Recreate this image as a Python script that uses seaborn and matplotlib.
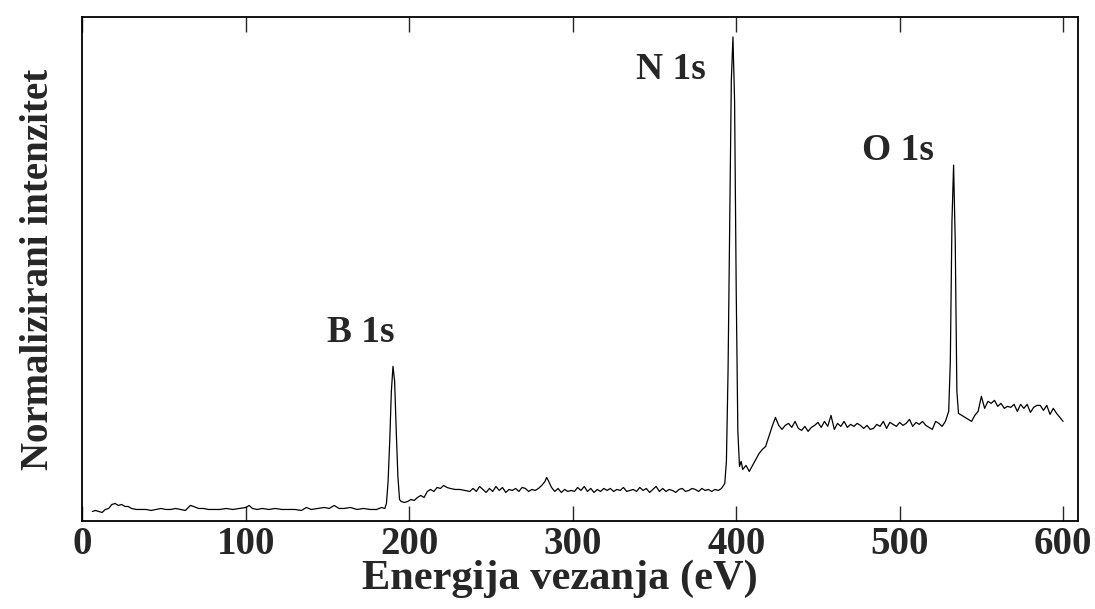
import matplotlib
matplotlib.use("Agg")
import matplotlib.pyplot as plt
import seaborn as sns
import pandas as pd

# binding energy (eV)
energy = [6, 8, 10, 12, 14, 16, 18, 20, 22, 24, 26, 28, 30, 33, 36, 39, 42, 45, 48, 51,
          54, 57, 60, 63, 66, 68, 71, 74, 77, 80, 84, 88, 92, 96, 100, 102, 104, 107, 110, 114,
          118, 122, 126, 130, 134, 137, 140, 144, 148, 151, 154, 157, 160, 164, 168, 172, 176, 180, 183, 185,
          186, 187, 188, 189, 190, 191, 192, 193, 194, 195, 197, 199, 201, 203, 205, 207, 209, 211, 213, 215,
          217, 219, 221, 223, 225, 228, 231, 234, 237, 239, 241, 243, 245, 247, 249, 251, 253, 255, 257, 259,
          261, 263, 265, 267, 269, 271, 273, 275, 277, 279, 281, 283, 284, 285, 287, 289, 291, 293, 295, 297,
          299, 301, 303, 305, 307, 309, 311, 313, 315, 317, 319, 321, 323, 325, 327, 329, 331, 333, 335, 337,
          339, 341, 343, 345, 347, 349, 351, 353, 355, 357, 359, 361, 363, 365, 367, 369, 371, 373, 375, 377,
          379, 381, 383, 385, 387, 389, 391, 393, 394, 395, 396, 397, 398, 399, 400, 401, 402, 403, 404, 406,
          408, 410, 412, 414, 416, 418, 420, 422, 424, 426, 428, 430, 432, 434, 436, 438, 440, 442, 444, 446,
          448, 450, 452, 454, 456, 458, 460, 462, 464, 466, 468, 470, 472, 474, 476, 478, 480, 482, 484, 486,
          488, 490, 492, 494, 496, 498, 500, 502, 504, 506, 508, 510, 512, 514, 516, 518, 520, 522, 524, 526,
          528, 530, 531, 532, 533, 534, 535, 536, 538, 540, 542, 544, 546, 548, 550, 552, 554, 556, 558, 560,
          562, 564, 566, 568, 570, 572, 574, 576, 578, 580, 582, 584, 586, 588, 590, 592, 594, 596, 598, 600]

# intensity (arbitrary units)
intensity = [10, 11, 10, 9, 12, 13, 17, 18, 16, 17, 15, 15, 13, 12, 12, 12, 11, 12, 13, 12,
             12, 13, 12, 11, 16, 15, 13, 13, 12, 12, 12, 13, 12, 13, 14, 16, 13, 12, 13, 12,
             13, 12, 12, 12, 11, 14, 12, 13, 14, 13, 16, 13, 13, 14, 12, 13, 12, 12, 14, 13,
             18, 40, 80, 130, 155, 140, 90, 45, 22, 20, 19, 20, 22, 21, 24, 26, 24, 30, 32, 30,
             34, 33, 36, 34, 33, 32, 32, 31, 30, 33, 30, 35, 32, 29, 33, 30, 35, 31, 34, 29,
             32, 31, 33, 30, 34, 33, 30, 32, 31, 33, 36, 40, 44, 41, 34, 30, 33, 29, 32, 30,
             31, 30, 34, 31, 35, 30, 33, 29, 32, 30, 33, 31, 33, 30, 32, 31, 34, 30, 31, 32,
             30, 34, 31, 33, 29, 32, 35, 30, 33, 30, 32, 31, 29, 32, 33, 30, 31, 33, 32, 30,
             33, 31, 32, 30, 32, 31, 33, 38, 60, 150, 300, 440, 484, 420, 230, 90, 55, 60, 52, 56,
             50, 56, 62, 68, 72, 75, 85, 95, 104, 96, 92, 96, 98, 94, 100, 93, 91, 95, 90, 94,
             96, 99, 94, 100, 95, 106, 92, 98, 95, 100, 94, 97, 95, 98, 96, 93, 96, 92, 93, 97,
             95, 100, 93, 99, 97, 95, 99, 96, 98, 102, 95, 99, 97, 100, 96, 94, 92, 100, 98, 95,
             100, 110, 160, 300, 356, 280, 130, 108, 106, 104, 102, 100, 106, 110, 125, 113, 120, 118, 121, 115,
             118, 113, 115, 114, 117, 110, 117, 113, 117, 109, 114, 116, 116, 111, 116, 107, 113, 108, 104, 100]

peak_labels = ["B 1s", "N 1s", "O 1s"]
peak_x = [170, 360, 499]
peak_y = [189, 451, 371]

df = pd.DataFrame({"energy": energy, "intensity": intensity})

sns.set_theme(style="ticks")
plt.rcParams["font.family"] = ["Liberation Serif", "DejaVu Serif"]
plt.rcParams["font.weight"] = "bold"

fig = plt.figure(figsize=(10.95, 6.09), dpi=100)
ax = fig.add_axes([0.0753, 0.1437, 0.909, 0.8285])

sns.lineplot(data=df, x="energy", y="intensity", color="black", linewidth=0.9, ax=ax)

for lab, px, py in zip(peak_labels, peak_x, peak_y):
    ax.text(px, py, lab, ha="center", va="center", fontsize=27, fontweight="bold")

ax.set_xlim(0, 609)
ax.set_ylim(0, 504)
ax.set_xticks([0, 100, 200, 300, 400, 500, 600])
ax.set_yticks([])
ax.tick_params(axis="x", direction="in", length=11, width=1, top=True, labelsize=28, pad=3)
for lbl in ax.get_xticklabels():
    lbl.set_fontweight("bold")
for sp in ax.spines.values():
    sp.set_visible(True)
    sp.set_linewidth(1.3)
    sp.set_color("black")

ax.set_xlabel("Energija vezanja (eV)", fontsize=30.5, fontweight="bold")
ax.xaxis.set_label_coords(0.48, -0.076)
ax.set_ylabel("Normalizirani intenzitet", fontsize=28, fontweight="bold", labelpad=18)

fig.savefig("out.png", dpi=100)
